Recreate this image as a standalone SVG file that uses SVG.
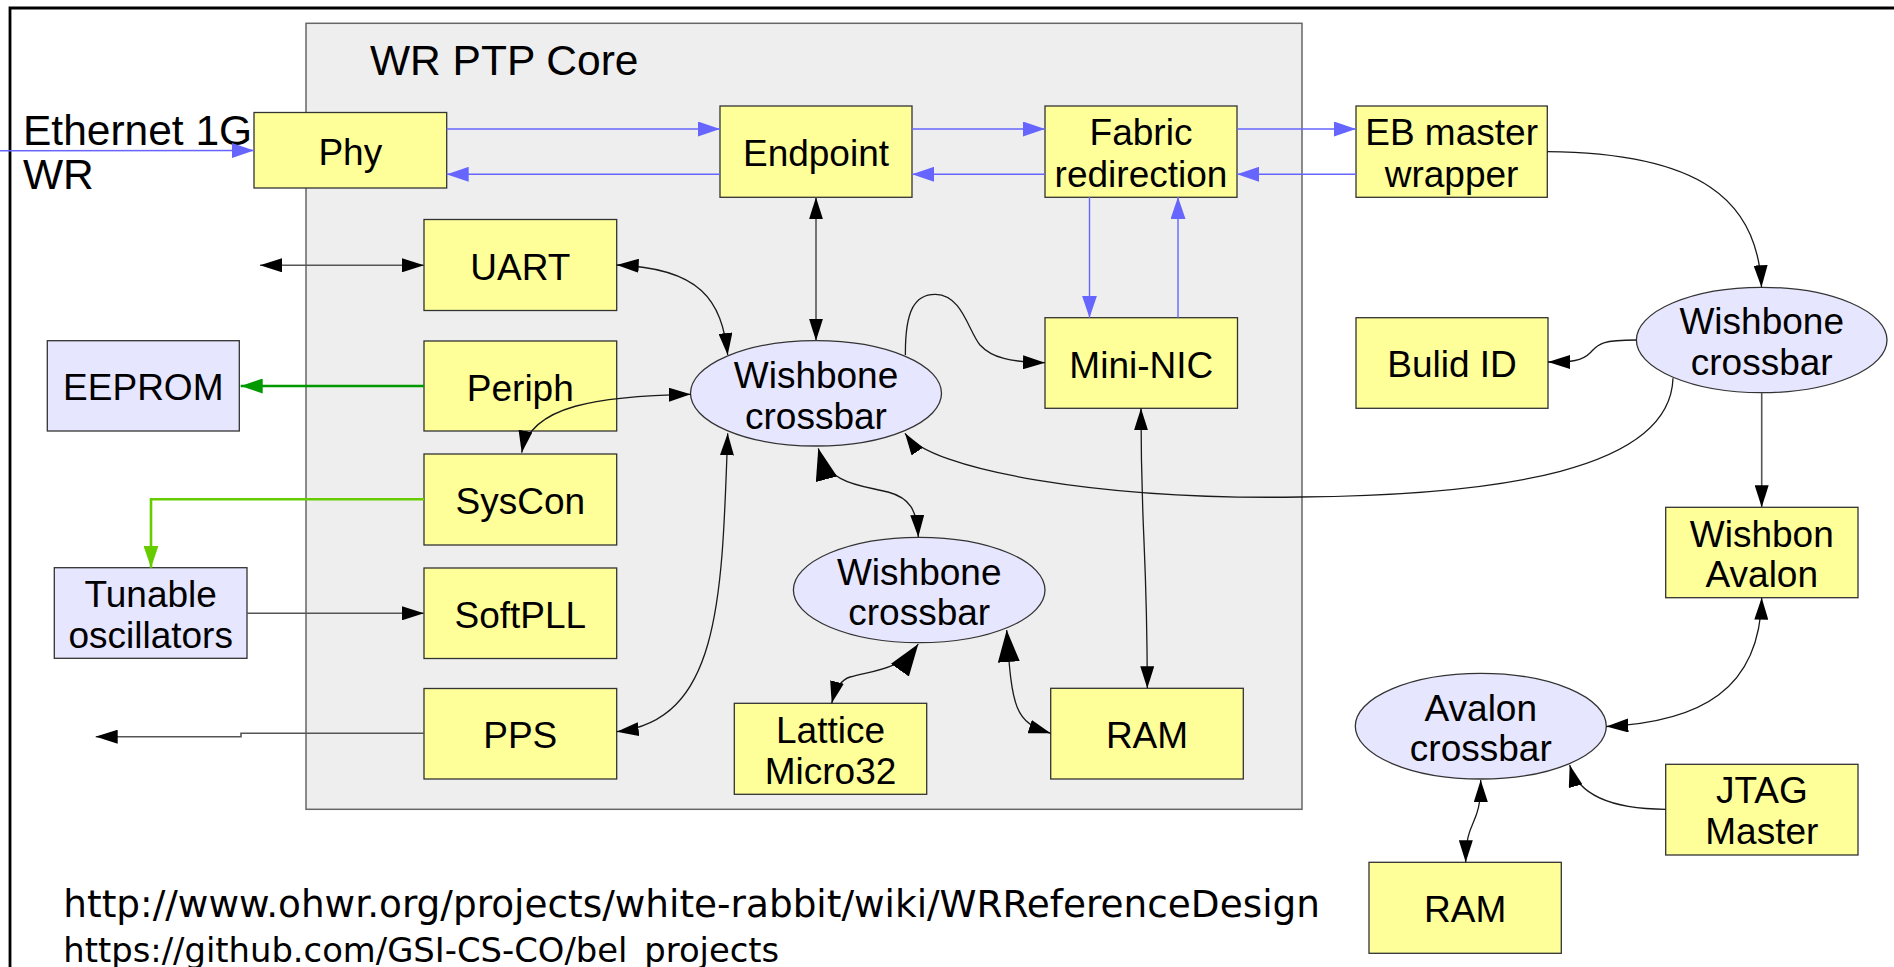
<svg xmlns="http://www.w3.org/2000/svg" width="1894" height="967" viewBox="0 0 1894 967">
  <style>
    .blk { fill: #ffff99; stroke: #333333; stroke-width: 1.3; }
    .ext { fill: #e6e6ff; stroke: #333333; stroke-width: 1.3; }
    .lbl { font-family: "Liberation Sans", Arial, sans-serif; font-size: 37px; fill: #000000; text-anchor: middle; }
    .big { font-family: "Liberation Sans", Arial, sans-serif; font-size: 42.5px; fill: #000000; }
    .url { font-family: "DejaVu Sans", sans-serif; font-size: 37.4px; fill: #000000; }
    .url2 { font-family: "DejaVu Sans", sans-serif; font-size: 33.8px; fill: #000000; }
    .bus { fill: none; stroke: #6666ff; stroke-width: 1.4; }
    .wb { fill: none; stroke: #1a1a1a; stroke-width: 1.3; }
    .ln { fill: none; stroke: #555555; stroke-width: 1.6; }
  </style>
  <defs>
    <marker id="ah" viewBox="0 0 22 14" refX="22" refY="7" markerWidth="22" markerHeight="14" markerUnits="userSpaceOnUse" orient="auto-start-reverse">
      <path d="M0,0 L22,7 L0,14 z" fill="#000000"/>
    </marker>
    <marker id="ahBig" viewBox="0 0 32 22" refX="32" refY="11" markerWidth="32" markerHeight="22" markerUnits="userSpaceOnUse" orient="auto-start-reverse">
      <path d="M0,0 L32,11 L0,22 z" fill="#000000"/>
    </marker>
    <marker id="ahBlue" viewBox="0 0 22 15" refX="22" refY="7.5" markerWidth="22" markerHeight="15" markerUnits="userSpaceOnUse" orient="auto-start-reverse">
      <path d="M0,0 L22,7.5 L0,15 z" fill="#6666ff"/>
    </marker>
    <marker id="ahGreen" viewBox="0 0 22 15" refX="22" refY="7.5" markerWidth="22" markerHeight="15" markerUnits="userSpaceOnUse" orient="auto-start-reverse">
      <path d="M0,0 L22,7.5 L0,15 z" fill="#009900"/>
    </marker>
    <marker id="ahLime" viewBox="0 0 22 15" refX="22" refY="7.5" markerWidth="22" markerHeight="15" markerUnits="userSpaceOnUse" orient="auto-start-reverse">
      <path d="M0,0 L22,7.5 L0,15 z" fill="#66cc00"/>
    </marker>
  </defs>

  <rect x="0" y="0" width="1894" height="967" fill="#ffffff"/>

  <!-- frame (left and top edges) -->
  <path d="M10,967 L10,8 L1894,8" fill="none" stroke="#000000" stroke-width="2.8"/>

  <!-- core area -->
  <g id="wr-ptp-core">
    <rect x="306" y="23.3" width="996" height="786" fill="#eeeeee" stroke="#666666" stroke-width="1.5"/>
    <text class="big" x="370" y="75">WR PTP Core</text>
  </g>

  <g id="ethernet-label">
    <text class="big" x="23" y="145">Ethernet 1G</text>
    <text class="big" x="23" y="189.3">WR</text>
  </g>

  <!-- nodes -->
  <g id="phy">
    <rect class="blk" x="254" y="112.5" width="192.7" height="75.5"/>
    <text class="lbl" x="350.3" y="165">Phy</text>
  </g>
  <g id="endpoint">
    <rect class="blk" x="720" y="106" width="192" height="91.3"/>
    <text class="lbl" x="816" y="165.7">Endpoint</text>
  </g>
  <g id="fabric-redirection">
    <rect class="blk" x="1045" y="106" width="192" height="91.3"/>
    <text class="lbl" x="1141" y="145">Fabric</text>
    <text class="lbl" x="1141" y="186.7">redirection</text>
  </g>
  <g id="eb-master-wrapper">
    <rect class="blk" x="1356" y="106" width="191.3" height="91.3"/>
    <text class="lbl" x="1451.6" y="145">EB master</text>
    <text class="lbl" x="1451.6" y="186.7">wrapper</text>
  </g>
  <g id="uart">
    <rect class="blk" x="424" y="219.5" width="192.7" height="91"/>
    <text class="lbl" x="520.3" y="280">UART</text>
  </g>
  <g id="periph">
    <rect class="blk" x="424" y="341" width="192.7" height="90"/>
    <text class="lbl" x="520.3" y="400.5">Periph</text>
  </g>
  <g id="syscon">
    <rect class="blk" x="424" y="454" width="192.7" height="91"/>
    <text class="lbl" x="520.3" y="514">SysCon</text>
  </g>
  <g id="softpll">
    <rect class="blk" x="424" y="568" width="192.7" height="90.5"/>
    <text class="lbl" x="520.3" y="627.8">SoftPLL</text>
  </g>
  <g id="pps">
    <rect class="blk" x="424" y="688.5" width="192.7" height="90.5"/>
    <text class="lbl" x="520.3" y="748.3">PPS</text>
  </g>
  <g id="eeprom">
    <rect class="ext" x="47.3" y="340.7" width="192" height="90.3"/>
    <text class="lbl" x="143.3" y="400">EEPROM</text>
  </g>
  <g id="tunable-oscillators">
    <rect class="ext" x="54.3" y="567.7" width="192.7" height="90.6"/>
    <text class="lbl" x="150.7" y="606.7">Tunable</text>
    <text class="lbl" x="150.7" y="647.7">oscillators</text>
  </g>
  <g id="wishbone-crossbar-main">
    <ellipse class="ext" cx="816" cy="393.3" rx="125.5" ry="52.7"/>
    <text class="lbl" x="816" y="387.7">Wishbone</text>
    <text class="lbl" x="816" y="429.3">crossbar</text>
  </g>
  <g id="wishbone-crossbar-cpu">
    <ellipse class="ext" cx="919.2" cy="590" rx="125.8" ry="52.7"/>
    <text class="lbl" x="919.2" y="585">Wishbone</text>
    <text class="lbl" x="919.2" y="625">crossbar</text>
  </g>
  <g id="mini-nic">
    <rect class="blk" x="1045" y="317.7" width="192.5" height="90.6"/>
    <text class="lbl" x="1141.3" y="378.3">Mini-NIC</text>
  </g>
  <g id="ram-core">
    <rect class="blk" x="1050.7" y="688.3" width="192.6" height="90.7"/>
    <text class="lbl" x="1147" y="748.3">RAM</text>
  </g>
  <g id="lattice-micro32">
    <rect class="blk" x="734.3" y="703.3" width="192.4" height="91"/>
    <text class="lbl" x="830.5" y="743.3">Lattice</text>
    <text class="lbl" x="830.5" y="784.3">Micro32</text>
  </g>
  <g id="build-id">
    <rect class="blk" x="1356" y="317.7" width="192" height="90.6"/>
    <text class="lbl" x="1452" y="376.7">Bulid ID</text>
  </g>
  <g id="wishbone-crossbar-eb">
    <ellipse class="ext" cx="1761.7" cy="340" rx="125.3" ry="52.7"/>
    <text class="lbl" x="1761.7" y="334.3">Wishbone</text>
    <text class="lbl" x="1761.7" y="375">crossbar</text>
  </g>
  <g id="wishbone-avalon">
    <rect class="blk" x="1665.7" y="507.3" width="192.3" height="90.4"/>
    <text class="lbl" x="1761.8" y="546.7">Wishbon</text>
    <text class="lbl" x="1761.8" y="587.3">Avalon</text>
  </g>
  <g id="avalon-crossbar">
    <ellipse class="ext" cx="1480.8" cy="726.2" rx="125.5" ry="52.8"/>
    <text class="lbl" x="1480.8" y="720.7">Avalon</text>
    <text class="lbl" x="1480.8" y="761">crossbar</text>
  </g>
  <g id="jtag-master">
    <rect class="blk" x="1665.7" y="764.3" width="192.3" height="90.7"/>
    <text class="lbl" x="1761.8" y="803.3">JTAG</text>
    <text class="lbl" x="1761.8" y="844.3">Master</text>
  </g>
  <g id="ram-avalon">
    <rect class="blk" x="1369" y="862.3" width="192.3" height="91"/>
    <text class="lbl" x="1465.2" y="921.7">RAM</text>
  </g>

  <!-- connectors, drawn above the blocks -->
  <g id="connectors">
    <!-- fabric data path -->
    <path class="bus" d="M0,150.7 L254,150.5" marker-end="url(#ahBlue)"/>
    <path class="bus" d="M446.7,129 L720,129" marker-end="url(#ahBlue)"/>
    <path class="bus" d="M720,174.3 L446.7,174.3" marker-end="url(#ahBlue)"/>
    <path class="bus" d="M912,129 L1045,129" marker-end="url(#ahBlue)"/>
    <path class="bus" d="M1045,174.3 L912,174.3" marker-end="url(#ahBlue)"/>
    <path class="bus" d="M1237,129 L1356,129" marker-end="url(#ahBlue)"/>
    <path class="bus" d="M1356,174.3 L1237,174.3" marker-end="url(#ahBlue)"/>
    <path class="bus" d="M1089.5,197 L1089.5,317.7" marker-end="url(#ahBlue)"/>
    <path class="bus" d="M1178,317.7 L1178,197" marker-end="url(#ahBlue)"/>

    <!-- side signals -->
    <path d="M424,386 L240.7,386" fill="none" stroke="#009900" stroke-width="2.6" marker-end="url(#ahGreen)"/>
    <path d="M424,499.3 L151,499.3 L151,567.7" fill="none" stroke="#66cc00" stroke-width="2.6" marker-end="url(#ahLime)"/>
    <path class="ln" d="M260,265.3 L424,265.3" marker-start="url(#ah)" marker-end="url(#ah)"/>
    <path class="ln" d="M247,613.3 L424,613.3" marker-end="url(#ah)"/>
    <path class="ln" d="M424,733.3 L241,733.3 L241,736.7 L95.7,736.7" marker-end="url(#ah)"/>

    <!-- wishbone links -->
    <path class="ln" d="M816,197.3 L816,340.7" marker-start="url(#ah)" marker-end="url(#ah)"/>
    <path class="wb" d="M616.7,265 C700,268 722,300 727.7,355" marker-start="url(#ah)" marker-end="url(#ah)"/>
    <path class="wb" d="M690.7,394.3 C600,396 530,405 521.7,452.7" marker-start="url(#ah)" marker-end="url(#ah)"/>
    <path class="wb" d="M727.7,433.3 C722,600 720,720 616.7,731.7" marker-start="url(#ah)" marker-end="url(#ah)"/>
    <path class="wb" d="M905.4,355 C905,310 915,294 935.7,294.3 C962,295 968,330 980,345 C992,358 1010,362 1045,362.7" marker-end="url(#ah)"/>
    <path class="wb" d="M818.3,448.3 C828,485 860,485 888,492 C910,498 917,510 918.3,537" marker-start="url(#ahBig)" marker-end="url(#ah)"/>
    <path class="wb" d="M918.3,644 C900,670 875,670 850,677 C840,680 835,690 831.7,703.3" marker-start="url(#ahBig)" marker-end="url(#ah)"/>
    <path class="wb" d="M1006.7,630 C1012,710 1015,722 1050.7,733.3" marker-start="url(#ahBig)" marker-end="url(#ah)"/>
    <path class="wb" d="M1141,408.3 C1141,540 1147,540 1147.3,688.3" marker-start="url(#ah)" marker-end="url(#ah)"/>
    <path class="wb" d="M1673,378.3 C1670,470 1500,495 1300,497 C1100,500 930,470 905,433.3" marker-end="url(#ah)"/>

    <!-- etherbone side -->
    <path class="wb" d="M1547.3,151.7 C1700,153 1758,200 1761.5,287.3" marker-end="url(#ah)"/>
    <path class="wb" d="M1636.4,340 C1598,340 1598,345 1590,353 C1582,361 1572,362 1548,362" marker-end="url(#ah)"/>
    <path class="ln" d="M1761.7,392.7 L1761.7,507.3" marker-end="url(#ah)"/>
    <path class="wb" d="M1761.7,597.7 C1760,690 1700,722 1606.3,726.5" marker-start="url(#ah)" marker-end="url(#ah)"/>
    <path class="wb" d="M1665.7,809.3 C1610,809 1578,795 1569.7,765" marker-end="url(#ah)"/>
    <path class="wb" d="M1480.7,780 C1481,830 1466,815 1465.7,862.3" marker-start="url(#ah)" marker-end="url(#ah)"/>
  </g>

  <g id="links">
    <text class="url" x="63.3" y="916.5">http://www.ohwr.org/projects/white-rabbit/wiki/WRReferenceDesign</text>
    <text class="url2" x="63.3" y="962">https://github.com/GSI-CS-CO/bel_projects</text>
  </g>
</svg>
